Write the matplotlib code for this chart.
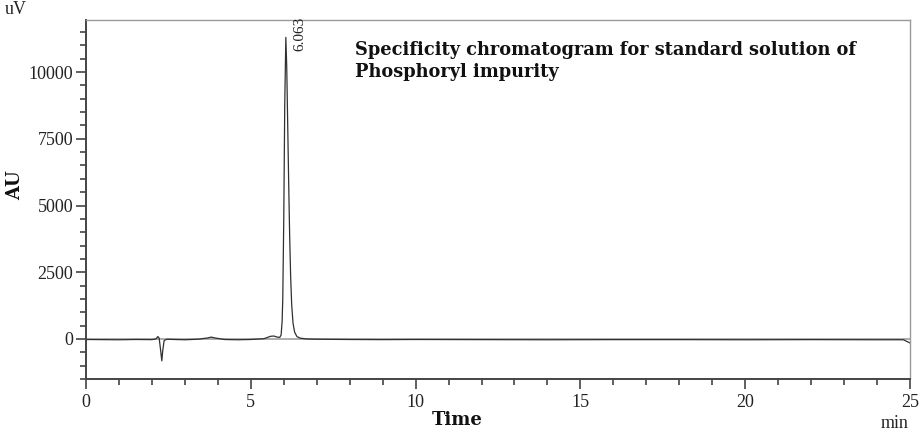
import matplotlib
matplotlib.use("Agg")
import matplotlib.pyplot as plt
from matplotlib.ticker import MultipleLocator

# Chromatogram trace (time in min, signal in uV)
time = [0.0, 0.5, 1.0, 1.5, 2.0, 2.12, 2.18, 2.22, 2.26, 2.30, 2.33, 2.37, 2.45,
        2.7, 3.0, 3.4, 3.7, 3.8, 3.9, 4.2, 4.6, 5.0, 5.4, 5.6, 5.7, 5.8, 5.88,
        5.92, 5.95, 5.97, 6.00, 6.03, 6.063, 6.09, 6.12, 6.15, 6.18, 6.21, 6.24,
        6.28, 6.33, 6.40, 6.50, 6.7, 7.0, 7.5, 8.0, 9.0, 10.0, 12.0, 14.0, 16.0,
        18.0, 20.0, 22.0, 24.0, 24.8, 25.0]
signal = [-20, -25, -30, -20, -25, 0, 90, 30, -380, -820, -420, -60, -10,
          -20, -30, -10, 40, 70, 40, -20, -30, -20, 10, 100, 110, 70, 60,
          150, 650, 1500, 4500, 8800, 11300, 10200, 8000, 5800, 3800, 2300, 1300,
          600, 250, 90, 30, 0, -10, -15, -20, -25, -20, -25, -30, -25,
          -25, -30, -25, -30, -30, -150]

peak_rt = 6.063
peak_label = "6.063"

xticks = [0, 5, 10, 15, 20, 25]
yticks = [0, 2500, 5000, 7500, 10000]

title = "Specificity chromatogram for standard solution of\nPhosphoryl impurity"

fig = plt.figure(figsize=(9.22, 4.32), dpi=100)
ax = fig.add_axes([86/922, 53/432, 824/922, 359/432])

ax.plot([0, 25], [0, 0], color="#a0a0a0", lw=1.2, zorder=1)
ax.plot(time, signal, color="#303030", lw=0.9, zorder=2)

ax.set_xlim(0, 25)
ax.set_ylim(-1500, 11950)
ax.set_xticks(xticks)
ax.set_yticks(yticks)
ax.xaxis.set_minor_locator(MultipleLocator(1))
ax.yaxis.set_minor_locator(MultipleLocator(500))

serif = ["Liberation Serif", "DejaVu Serif"]
for lab in ax.get_xticklabels() + ax.get_yticklabels():
    lab.set_fontfamily(serif)
    lab.set_fontsize(13)
    lab.set_color("#222222")

ax.tick_params(which="major", direction="out", length=7, width=1.2, color="#444444", pad=2)
ax.tick_params(which="minor", direction="out", length=4, width=1.2, color="#444444")
ax.tick_params(axis="x", pad=4)

for s in ["left", "bottom"]:
    ax.spines[s].set_color("#444444")
    ax.spines[s].set_linewidth(1.4)
for s in ["top", "right"]:
    ax.spines[s].set_color("#999999")
    ax.spines[s].set_linewidth(1.0)

ax.text(peak_rt + 0.42, 10800, peak_label, rotation=90, ha="center", va="bottom",
        fontsize=11, family=serif, color="#222222")

fig.text(355/922, 1 - 61/432, title, ha="left", va="center", fontsize=12.8,
         fontweight="bold", family=["DejaVu Serif"], color="#111111", linespacing=1.3)

fig.text(5/922, 1 - 10/432, "uV", ha="left", va="center", fontsize=13, family=serif, color="#222222")
fig.text(895/922, 1 - 423/432, "min", ha="center", va="center", fontsize=13, family=serif, color="#222222")
fig.text(457/922, 1 - 420/432, "Time", ha="center", va="center", fontsize=13,
         fontweight="bold", family=["DejaVu Serif"], color="#111111")
fig.text(15/922, 1 - 185/432, "AU", ha="center", va="center", fontsize=13, rotation=90,
         fontweight="bold", family=["DejaVu Serif"], color="#111111")

fig.savefig("out.png", dpi=100)
